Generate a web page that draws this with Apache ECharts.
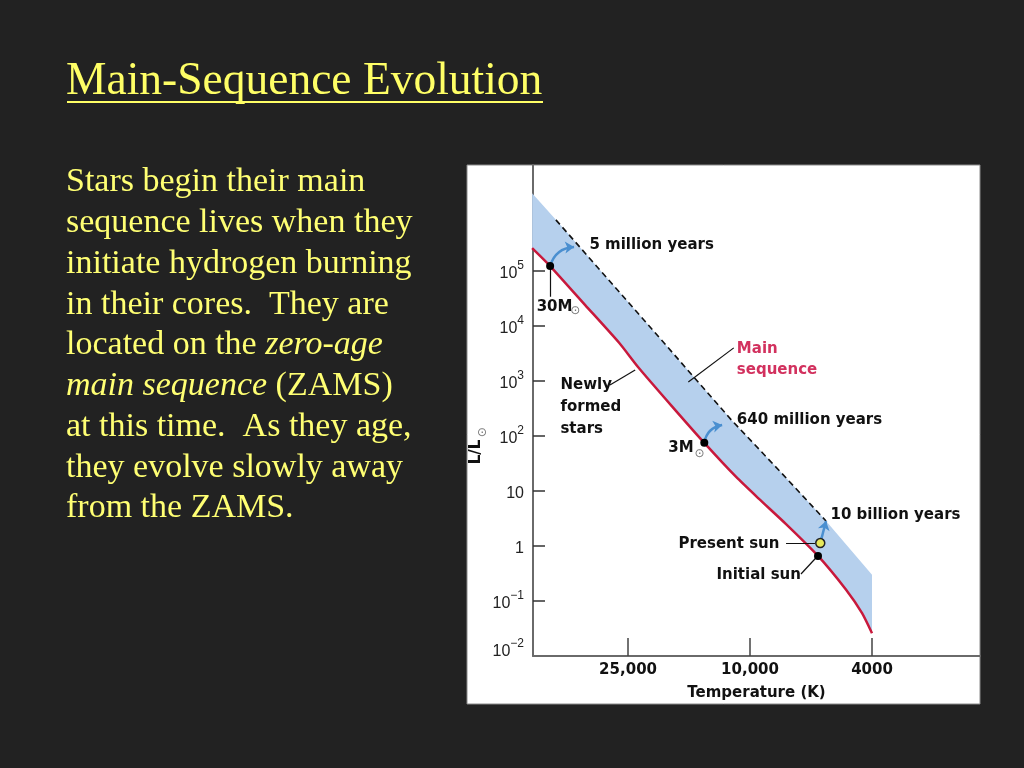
<!DOCTYPE html>
<html><head><meta charset="utf-8">
<script src="https://cdn.jsdelivr.net/npm/echarts@6/dist/echarts.min.js"></script>
<style>html,body{margin:0;padding:0;background:#222;}#c{width:1024px;height:768px;}</style>
</head><body><div id="c"></div>
<script>
// ---------- text ----------
const titleText = 'Main-Sequence Evolution';
const bodyLines = [
  'Stars begin their main',
  'sequence lives when they',
  'initiate hydrogen burning',
  'in their cores.  They are',
  'located on the *zero-age*',
  '*main sequence* (ZAMS)',
  'at this time.  As they age,',
  'they evolve slowly away',
  'from the ZAMS.'
];
// ---------- axes ----------
const xTickT = [25000, 10000, 4000];
const xTickLabels = ['25,000', '10,000', '4000'];
const yTickPow = [-2, -1, 0, 1, 2, 3, 4, 5];
// ---------- data (Temperature K, Luminosity L/Lsun) ----------
const zamsT = [51400, 44900, 34500, 26700, 23200, 18000, 14100, 11100, 9350, 7630, 6000, 4860, 4310, 4000];
const zamsL = [2.6e5, 1.23e5, 2.4e4, 4900, 1800, 350, 75, 18, 7.2, 2.5, 0.66, 0.16, 0.06, 0.026];
const bandTopT = [51400, 43000, 22200, 11500, 8000, 5650, 4000];
const bandTopL = [2.6e6, 8.5e5, 1.29e4, 195, 23, 2.85, 0.30];
const isoT = [43000, 22200, 11500, 8000, 5650];
const isoL = [8.5e5, 1.29e4, 195, 23, 2.85];
const starNames = ['30M', '3M', 'Initial sun'];
const starT = [44900, 14100, 6000];
const starL = [1.23e5, 75, 0.66];
const sunNowT = [5900];
const sunNowL = [1.13];
const arrowFromT = [44900, 14100, 5900];
const arrowFromL = [1.23e5, 75, 1.13];
const arrowToT = [37500, 12330, 5650];
const arrowToL = [2.73e5, 158, 2.85];
const leaderFromT = [44900, 28650, 15900, 7630, 6820];
const leaderFromL = [1.23e5, 845, 960, 1.13, 0.31];
const leaderToT = [44900, 23700, 11300, 6140, 6100];
const leaderToL = [3.4e4, 1585, 4000, 1.13, 0.605];
const noteText = ['5 million years', '30M', '\u2299', 'Main\nsequence', 'Newly\nformed\nstars', '640 million years', '3M', '\u2299', '10 billion years', 'Present sun', 'Initial sun'];
const noteT = [33300, 49500, 37000, 11000, 41400, 11000, 18400, 14550, 5445, 17060, 12820];
const noteL = [3.1e5, 2.31e4, 1.87e4, 2560, 351, 204, 63, 47, 3.82, 1.135, 0.31];

// ---------- build ----------
const lg = Math.log10;
const P = (t, l) => [lg(t), lg(l)];
const zams = zamsT.map((t, i) => P(t, zamsL[i]));
const iso = isoT.map((t, i) => P(t, isoL[i]));
const bandPoly = bandTopT.map((t, i) => P(t, bandTopL[i])).concat(zams.slice().reverse());

const boldFont = {fontFamily: 'DejaVu Sans', fontWeight: 'bold', fontSize: 15, color: '#111111'};
function noteLabel(txt) {
  if (txt === '\u2299') return {fontFamily: 'DejaVu Sans', fontWeight: 'normal', fontSize: 12, color: '#777', align: 'center', verticalAlign: 'middle'};
  if (txt.indexOf('Main') === 0) return Object.assign({}, boldFont, {color: '#d2315e', lineHeight: 21, align: 'left', verticalAlign: 'middle', offset: [0, 2]});
  return Object.assign({}, boldFont, {lineHeight: 22, align: 'left', verticalAlign: 'middle', offset: [0, 2]});
}

const bodyRich = bodyLines.map(line => line.split('*').map((seg, k) => seg === '' ? '' : (k % 2 ? '{i|' + seg + '}' : '{n|' + seg + '}')).join('')).join('\n');

const chart = echarts.init(document.getElementById('c'));
// the lowest label sits a little above the axis corner, as in the original figure
const yLabelPos = yTickPow.map(p => p === -2 ? -1.86 : p);
const yFmt = v => {
  const p = Math.round(v);
  if (p === 0) return '{b|1}';
  if (p === 1) return '{b|10}';
  return '{b|10}{s|' + (p < 0 ? '\u2212' + (-p) : p) + '}';
};
const xFmt = v => {
  for (let i = 0; i < xTickT.length; i++) if (Math.abs(lg(xTickT[i]) - v) < 1e-6) return xTickLabels[i];
  return '';
};

chart.setOption({
  backgroundColor: '#222222',
  animation: false,
  grid: {left: 533, top: 165, width: 447, height: 491, containLabel: false},
  xAxis: {
    type: 'value', inverse: true, min: 3.2497, max: 4.7081,
    axisLine: {show: true, onZero: false, lineStyle: {color: '#6a6a6a', width: 2}},
    axisTick: {show: true, inside: true, length: 18, customValues: xTickT.map(lg), lineStyle: {color: '#444', width: 1.5}},
    axisLabel: {customValues: xTickT.map(lg), formatter: xFmt, margin: 7, fontFamily: 'DejaVu Sans', fontWeight: 'bold', fontSize: 15, color: '#111'},
    splitLine: {show: false},
    name: 'Temperature (K)', nameLocation: 'middle', nameGap: 30,
    nameTextStyle: {fontFamily: 'DejaVu Sans', fontWeight: 'bold', fontSize: 15, color: '#111'}
  },
  yAxis: {
    type: 'value', min: -2, max: 6.927,
    axisLine: {show: true, onZero: false, lineStyle: {color: '#6a6a6a', width: 2}},
    axisTick: {show: true, inside: true, length: 12, customValues: yTickPow.filter(p => p > -2), lineStyle: {color: '#333', width: 1.5}},
    axisLabel: {
      customValues: yLabelPos, formatter: yFmt, margin: 9,
      rich: {
        b: {fontFamily: 'Liberation Sans', fontSize: 16, color: '#222', lineHeight: 22, verticalAlign: 'bottom'},
        s: {fontFamily: 'Liberation Sans', fontSize: 12, color: '#222', lineHeight: 10, verticalAlign: 'top'}
      }
    },
    splitLine: {show: false}
  },
  graphic: [
    {type: 'rect', z: -10, shape: {x: 467, y: 165, width: 513, height: 539}, style: {fill: '#ffffff', stroke: '#8a8a8a', lineWidth: 1}},
    {type: 'text', x: 66, y: 82, style: {text: titleText, fontFamily: 'Liberation Serif', fontSize: 45.5, fill: '#ffff66', verticalAlign: 'middle', align: 'left'}},
    {type: 'rect', shape: {x: 67, y: 101, width: 476, height: 2}, style: {fill: '#ffff66'}},
    {type: 'text', x: 66, y: 162, style: {
      text: bodyRich, align: 'left', verticalAlign: 'top', fill: '#ffff73',
      rich: {
        n: {fontFamily: 'Liberation Serif', fontSize: 34, lineHeight: 40.75, fill: '#ffff73'},
        i: {fontFamily: 'Liberation Serif', fontStyle: 'italic', fontSize: 34, lineHeight: 40.75, fill: '#ffff73'}
      }
    }},
    {type: 'text', x: 476, y: 452, rotation: Math.PI / 2, style: {text: 'L/L', fontFamily: 'DejaVu Sans', fontWeight: 'bold', fontSize: 15, fill: '#111', align: 'center', verticalAlign: 'middle'}},
    {type: 'text', x: 482, y: 433, style: {text: '\u2299', fontFamily: 'DejaVu Sans', fontSize: 12, fill: '#777', align: 'center', verticalAlign: 'middle'}}
  ],
  series: [
    {
      type: 'custom', name: 'band', z: 1, silent: true, clip: false,
      data: [[4, 0]],
      renderItem: (params, api) => ({
        type: 'polygon',
        shape: {points: bandPoly.map(p => api.coord(p))},
        style: {fill: '#b6d0ed'}
      })
    },
    {
      type: 'line', name: 'isochrone', z: 3, data: iso, showSymbol: false, silent: true,
      lineStyle: {color: '#111', width: 1.6, type: [6, 4]}
    },
    {
      type: 'line', name: 'ZAMS', z: 4, data: zams, showSymbol: false, smooth: 0.2, silent: true,
      lineStyle: {color: '#c8193c', width: 2.5}
    },
    {
      type: 'lines', name: 'leaders', coordinateSystem: 'cartesian2d', z: 5, silent: true,
      lineStyle: {color: '#111', width: 1.2, opacity: 1},
      data: leaderFromT.map((t, i) => ({coords: [P(t, leaderFromL[i]), P(leaderToT[i], leaderToL[i])]}))
    },
    {
      type: 'lines', name: 'arrows', coordinateSystem: 'cartesian2d', z: 6, silent: true,
      symbol: ['none', 'arrow'], symbolSize: 9,
      lineStyle: {color: '#4a8fd0', width: 2.5, opacity: 1, curveness: 0.35},
      data: arrowFromT.map((t, i) => ({
        coords: [P(t, arrowFromL[i]), P(arrowToT[i], arrowToL[i])],
        lineStyle: i === 2 ? {curveness: 0} : {}
      }))
    },
    {
      type: 'scatter', name: 'stars', z: 7, silent: true, symbolSize: 8,
      itemStyle: {color: '#000', opacity: 1},
      data: starT.map((t, i) => ({name: starNames[i], value: P(t, starL[i])}))
    },
    {
      type: 'scatter', name: 'present sun', z: 8, silent: true, symbolSize: 9,
      itemStyle: {color: '#e6e85a', borderColor: '#222', borderWidth: 1.5, opacity: 1},
      data: sunNowT.map((t, i) => P(t, sunNowL[i]))
    },
    {
      type: 'scatter', name: 'notes', z: 9, silent: true, symbolSize: 1,
      itemStyle: {color: 'rgba(0,0,0,0)', opacity: 1},
      data: noteText.map((txt, i) => ({
        name: txt, value: P(noteT[i], noteL[i]),
        label: Object.assign({show: true, position: [0, 0], formatter: '{b}', opacity: 1}, noteLabel(txt))
      }))
    }
  ]
});
</script></body></html>
